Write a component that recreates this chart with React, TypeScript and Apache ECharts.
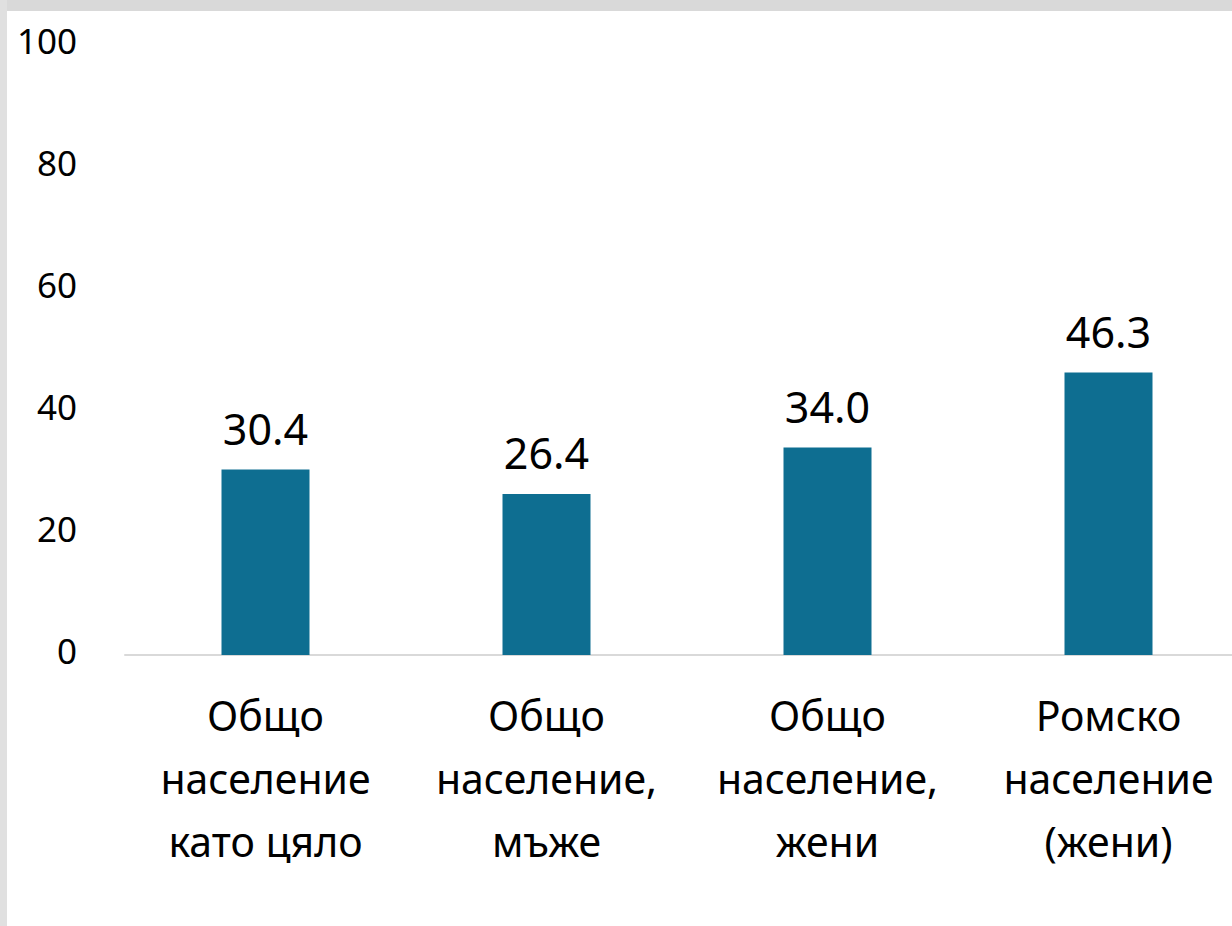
import React, { useEffect, useRef } from "react";
import * as echarts from "echarts";

const categories = [
  "Общо\nнаселение\nкато цяло",
  "Общо\nнаселение,\nмъже",
  "Общо\nнаселение,\nжени",
  "Ромско\nнаселение\n(жени)",
];
const values = [30.4, 26.4, 34.0, 46.3];
const yTicks = { min: 0, max: 100, interval: 20 };

export default function App() {
  const ref = useRef<HTMLDivElement>(null);
  useEffect(() => {
    if (!ref.current) return;
    const chart = echarts.init(ref.current, null, { renderer: "svg" });
    chart.setOption({
      animation: false,
      backgroundColor: "#ffffff",
      graphic: [
        { type: "rect", shape: { x: 0, y: 0, width: 1232, height: 11 }, style: { fill: "#d9d9d9" }, silent: true },
        { type: "rect", shape: { x: 0, y: 0, width: 7, height: 926 }, style: { fill: "#e0e0e0" }, silent: true },
      ],
      grid: {
        left: 125,
        width: 1124,
        top: 45,
        bottom: 271,
        containLabel: false,
        outerBoundsMode: "none",
      },
      xAxis: {
        type: "category",
        data: categories,
        axisLine: { show: true, lineStyle: { color: "#d9d9d9", width: 2 } },
        axisTick: { show: false },
        axisLabel: {
          margin: 28,
          fontFamily: "Noto Sans",
          fontSize: 41,
          lineHeight: 63,
          color: "#000000",
          interval: 0,
        },
      },
      yAxis: {
        type: "value",
        min: yTicks.min,
        max: yTicks.max,
        interval: yTicks.interval,
        axisLine: { show: false },
        axisTick: { show: false },
        splitLine: { show: false },
        axisLabel: {
          margin: 48,
          fontFamily: "Noto Sans",
          fontSize: 35,
          color: "#000000",
          formatter: "{a|{value}}",
          rich: {
            a: {
              fontFamily: "Noto Sans",
              fontSize: 35,
              color: "#000000",
              padding: [0, 0, 10, 0],
            },
          },
        },
      },
      series: [
        {
          type: "bar",
          data: values,
          barWidth: 88,
          itemStyle: { color: "#0e6e91" },
          label: {
            show: true,
            position: "top",
            distance: 20,
            formatter: (p: any) => p.value.toFixed(1),
            fontFamily: "Noto Sans",
            fontSize: 43,
            color: "#000000",
          },
        },
      ],
    });
    return () => chart.dispose();
  }, []);
  return (
    <div
      ref={ref}
      style={{ position: "fixed", left: 0, top: 0, width: 1232, height: 926 }}
    />
  );
}
